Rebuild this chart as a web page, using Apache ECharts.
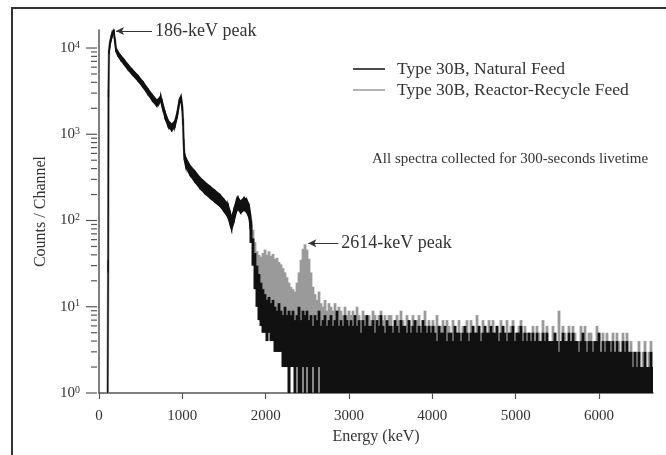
<!DOCTYPE html>
<html><head><meta charset="utf-8">
<script src="https://cdn.jsdelivr.net/npm/echarts@6/dist/echarts.min.js"></script>
<style>html,body{margin:0;padding:0;background:#fff}#c{width:666px;height:455px}</style>
</head><body><div id="c"></div>
<script>
// ---- data ----
const seriesNames = ['Type 30B, Natural Feed', 'Type 30B, Reactor-Recycle Feed'];

// low-energy part (keV) where the spectra are a smooth band
const smoothEnergy = [104,110,114,120,132,150,168,180,192,204,224,260,300,348,400,468,530,588,640,692,715,740,760,790,830,872,910,940,965,984,1000,1008,1016,1024,1040,1092,1150,1212,1270,1332,1390,1452,1500,1548,1575,1592,1620,1650,1668,1700,1740,1772,1800,1816,1830];
const naturalLow = [1,25,2700,8500,10700,12800,14300,15100,11300,9000,8200,7200,6450,5600,4900,4150,3480,2880,2450,2120,2200,2420,2030,1560,1220,1100,1200,1580,2250,2450,1850,1280,720,500,420,335,280,235,205,182,163,146,127,108,88,78,97,127,135,122,132,124,107,80,58];
const naturalHigh = [1,35,3300,9500,11900,14200,15700,16100,12700,10000,9200,8200,7400,6450,5650,4800,4050,3350,2870,2500,2580,2800,2380,1850,1450,1310,1420,1830,2560,2800,2150,1520,880,620,540,435,375,315,280,250,224,200,176,155,125,110,137,175,186,168,184,176,155,120,92];
const recycleLine = [1,32,3100,9200,11500,13700,15200,15900,12200,9700,8900,7850,7050,6150,5350,4550,3850,3180,2720,2360,2440,2660,2260,1750,1370,1240,1340,1750,2450,2680,2050,1430,830,580,500,400,340,285,252,226,202,181,158,138,112,100,122,158,168,154,168,160,142,115,92];

// high-energy noisy part: channels grouped into 24 keV bins starting at 1824 keV
const binStart = 1824, binWidth = 24;
const naturalBinHigh = [
 90,62,42,30,24,19,16,14,12,13,
 11,12,10,9,11,9,8,10,8,9,
 8,9,7,8,10,7,9,8,9,7,
 8,6,8,7,9,6,7,8,6,7,
 8,6,7,9,6,7,6,8,7,6,
 7,6,8,6,7,5,7,6,8,6,
 6,7,5,7,6,8,6,5,7,6,
 6,5,7,6,5,7,6,6,5,7,
 5,6,7,5,6,5,7,6,5,6,
 5,6,5,4,6,5,5,6,4,5,
 5,4,6,5,5,4,5,6,5,4,
 5,6,5,5,6,4,5,6,5,5,
 6,5,5,6,4,5,6,5,4,5,
 5,6,4,5,5,6,4,5,4,5,
 4,5,4,5,4,4,5,4,5,4,
 4,4,5,4,3,4,5,4,4,5,
 4,5,4,4,3,4,5,4,3,4,
 4,3,4,4,5,3,4,3,4,4,
 3,4,3,4,3,3,4,3,4,3,
 3,2,3,2,3,2,2,3,2,2,
 3,2];
// lowest count in each bin (bins not listed reach zero counts = axis floor 1)
const naturalBinLow = [
 55,30,16,10,7,6,5,5,4,5,
 4,4,3,3,3,3,2,2,2,1,
 2,2,1,2,1,1,2,1,2,1,
 1,2,1,1,2,1,1,1,1,1];
const recycleBinHigh = [
 100,78,56,44,40,38,42,46,40,44,
 39,41,36,37,33,31,28,25,22,19,
 17,16,15,19,25,35,47,53,46,36,
 25,17,14,12,15,11,10,12,9,11,
 10,9,11,8,10,9,8,10,8,9,
 8,9,7,10,8,7,9,8,7,8,
 7,9,8,7,8,9,7,8,6,8,
 8,6,6,8,7,9,7,6,8,7,
 6,8,6,7,8,6,7,9,6,7,
 6,7,6,8,6,6,7,5,7,6,
 5,7,6,5,7,5,6,5,7,5,
 7,6,5,8,6,5,7,6,5,7,
 6,7,5,6,5,7,6,5,7,5,
 6,7,5,5,6,7,5,6,5,5,
 5,6,4,6,5,4,7,5,6,4,
 4,6,5,4,9,4,6,5,4,6,
 4,6,5,4,4,6,5,6,4,5,
 5,4,4,6,5,3,5,4,5,4,
 4,5,3,5,4,3,5,4,5,3,
 4,3,3,3,4,2,3,4,2,3,
 4,2];

// axes
const xMin = 0, xMax = 6648, xInterval = 1000;
const yMin = 1, yMax = 16180;
const yMajorTicks = [1,10,100,1000,10000];
const yMinorMultipliers = [2,3,4,5,6,7,8,9];

// annotations [tailEnergy, headEnergy, counts, text]
const annotations = [
  [636, 204, 15740, '186-keV peak'],
  [2872, 2512, 54.4, '2614-keV peak']
];
const noteText = 'All spectra collected for 300-seconds livetime';

// ---- build ----
const FONT = "'Liberation Serif','DejaVu Serif',serif";
const TXT = '#333';
const BLACK = '#111';
const GRAY = '#9a9a9a';

function bandData(E, lo, hi) {
  const d = [];
  for (let i = 0; i < E.length - 1; i++) d.push([E[i], lo[i], hi[i], E[i+1], lo[i+1], hi[i+1]]);
  return d;
}
function binData(high, low) {
  return high.map((h, i) => [binStart + i * binWidth, i < low.length ? low[i] : 1, h]);
}
const tickData = [];
yMajorTicks.forEach(m => {
  tickData.push([0, m, 1]);
  yMinorMultipliers.forEach(k => { if (m * k <= yMax) tickData.push([0, m * k, 0]); });
});

function bandRender(color) {
  return function (params, api) {
    const a0 = api.coord([api.value(0), api.value(2)]);
    const a1 = api.coord([api.value(3), api.value(5)]);
    const b1 = api.coord([api.value(3), api.value(4)]);
    const b0 = api.coord([api.value(0), api.value(1)]);
    return {type: 'polygon', shape: {points: [a0, a1, b1, b0]},
      style: {fill: color, stroke: color, lineWidth: 1.3}};
  };
}
function binRender(color) {
  return function (params, api) {
    const cs = params.coordSys;
    const e = api.value(0), lo = api.value(1), hi = api.value(2);
    const p1 = api.coord([e - binWidth / 2, hi]);
    const p2 = api.coord([e + binWidth / 2, lo]);
    const x1 = Math.max(cs.x, p1[0] - 0.4);
    const x2 = Math.min(cs.x + cs.width, p2[0] + 0.4);
    return {type: 'rect', shape: {x: x1, y: p1[1], width: Math.max(0, x2 - x1), height: p2[1] - p1[1]},
      style: {fill: color}};
  };
}
function tickRender(params, api) {
  const p = api.coord([0, api.value(1)]);
  const len = api.value(2) ? 11 : 6;
  const x0 = p[0] - 2;
  return {type: 'line', shape: {x1: x0, y1: p[1], x2: x0 - len, y2: p[1]},
    style: {stroke: '#555', lineWidth: 1.2}};
}

const chart = echarts.init(document.getElementById('c'), null, {renderer: 'canvas'});
chart.setOption({
  animation: false,
  backgroundColor: '#fff',
  grid: {left: 99, right: 13, top: 30, bottom: 62, containLabel: false},
  graphic: [
    {type: 'rect', shape: {x: 12, y: 8, width: 700, height: 500}, style: {fill: 'none', stroke: '#333', lineWidth: 2}, z: 0},
    {type: 'text', left: 372, top: 152, style: {text: noteText, font: '15px ' + FONT, fill: TXT}}
  ],
  legend: {
    orient: 'vertical', left: 348, top: 55, itemWidth: 32, itemHeight: 1.5, itemGap: 3,
    textStyle: {fontFamily: FONT, fontSize: 17.5, color: TXT, lineHeight: 18, padding: [0, 0, 0, 7]},
    data: [
      {name: seriesNames[0], icon: 'rect', itemStyle: {color: BLACK}},
      {name: seriesNames[1], icon: 'rect', itemStyle: {color: GRAY}}
    ],
    selectedMode: false
  },
  xAxis: {
    type: 'value', min: xMin, max: xMax, interval: xInterval,
    name: 'Energy (keV)', nameLocation: 'middle', nameGap: 36,
    nameTextStyle: {fontFamily: FONT, fontSize: 16, color: TXT},
    axisLine: {lineStyle: {color: '#555', width: 1.5}},
    axisTick: {length: 6, lineStyle: {color: '#555', width: 1.2}},
    axisLabel: {fontFamily: FONT, fontSize: 15, color: TXT, margin: 16, showMaxLabel: false,
      formatter: function (v) { return (v % xInterval === 0) ? String(v) : ''; }},
    splitLine: {show: false}
  },
  yAxis: {
    type: 'log', logBase: 10, min: yMin, max: yMax, offset: 2,
    name: 'Counts / Channel', nameLocation: 'middle', nameGap: 45,
    nameTextStyle: {fontFamily: FONT, fontSize: 16, color: TXT},
    axisLine: {show: true, lineStyle: {color: '#555', width: 1.5}},
    axisTick: {show: false},
    axisLabel: {
      margin: 17, showMaxLabel: false,
      formatter: function (v) {
        const e = Math.round(Math.log10(v));
        if (Math.abs(v - Math.pow(10, e)) > 1e-6 * v) return '';
        return '{b|10}{s|' + e + '}';
      },
      rich: {
        b: {fontFamily: FONT, fontSize: 15, color: TXT, lineHeight: 16},
        s: {fontFamily: FONT, fontSize: 10, color: TXT, lineHeight: 10, verticalAlign: 'top'}
      }
    },
    splitLine: {show: false}
  },
  series: [
    {name: seriesNames[1], type: 'custom', z: 1, silent: true,
     itemStyle: {color: GRAY}, renderItem: binRender(GRAY),
     encode: {x: 0, y: [1, 2]}, data: binData(recycleBinHigh, naturalBinLow)},
    {name: seriesNames[1], type: 'line', z: 2, silent: true, showSymbol: false,
     lineStyle: {color: GRAY, width: 2.5}, itemStyle: {color: GRAY},
     data: smoothEnergy.map((e, i) => [e, recycleLine[i]]),
     markLine: {
       silent: true, symbol: ['none', 'arrow'], symbolSize: [6, 8],
       lineStyle: {color: '#333', width: 1, type: 'solid'},
       label: {show: true, position: 'start', distance: 3, fontFamily: FONT, fontSize: 18, color: TXT},
       data: annotations.map(a => [
         {coord: [a[0], a[2]], label: {formatter: a[3]}},
         {coord: [a[1], a[2]]}
       ])
     }},
    {name: seriesNames[0], type: 'custom', z: 3, silent: true,
     itemStyle: {color: BLACK}, renderItem: binRender(BLACK),
     encode: {x: 0, y: [1, 2]}, data: binData(naturalBinHigh, naturalBinLow)},
    {name: seriesNames[0], type: 'custom', z: 4, silent: true,
     itemStyle: {color: BLACK}, renderItem: bandRender(BLACK),
     encode: {x: [0, 3], y: [1, 2, 4, 5]}, data: bandData(smoothEnergy, naturalLow, naturalHigh)},
    {name: 'yTicks', type: 'custom', z: 5, silent: true, clip: false,
     renderItem: tickRender, encode: {x: 0, y: 1}, data: tickData}
  ]
});
</script></body></html>
